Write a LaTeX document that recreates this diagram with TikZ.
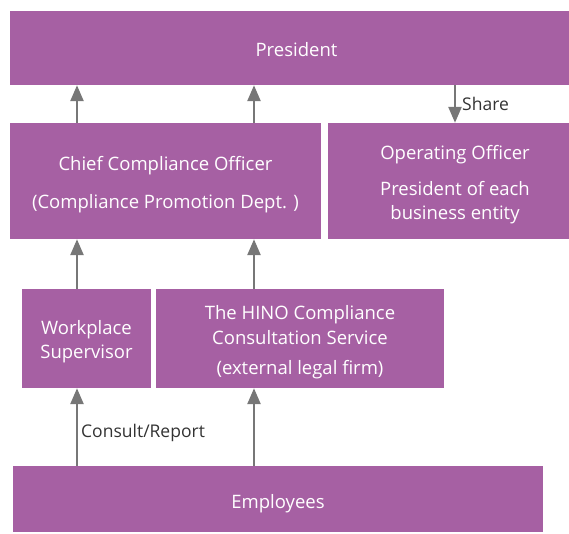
\documentclass[tikz,border=0pt]{standalone}
\usepackage{fontspec}
\setmainfont{Open Sans}
\usetikzlibrary{arrows.meta}
\definecolor{boxpurple}{HTML}{A660A3}
\definecolor{arrgray}{HTML}{777777}
\definecolor{labtext}{HTML}{333333}
\tikzset{
  orgbox/.style={fill=boxpurple, draw=none, inner sep=0pt},
  boxtext/.style={inner sep=0pt, text=white, align=center, font=\fontsize{18.5}{22}\selectfont},
  arr/.style={draw=arrgray, line width=2.5pt, -{Triangle[length=16pt,width=13pt]}},
  lab/.style={text=labtext, font=\fontsize{17.5}{21}\selectfont, inner sep=0pt, anchor=west}
}
\begin{document}
\begin{tikzpicture}[x=1pt,y=-1pt]
\useasboundingbox (0,0) rectangle (569,533);
\node[orgbox, minimum width=559pt, minimum height=74pt] (pres) at (289.5,48) {};
\node[orgbox, minimum width=311pt, minimum height=116pt] (cco) at (165.5,181) {};
\node[orgbox, minimum width=241pt, minimum height=116pt] (oo) at (448.5,181) {};
\node[orgbox, minimum width=129pt, minimum height=99pt] (ws) at (86.5,338.5) {};
\node[orgbox, minimum width=288pt, minimum height=99pt] (hino) at (300,338.5) {};
\node[orgbox, minimum width=530pt, minimum height=66pt] (emp) at (278,499) {};
\node[boxtext] (presT) at ([xshift=7pt,yshift=-1.5pt]pres.center) {President};
\node[boxtext] (ccoT) at ([yshift=-3.5pt]cco.center) {Chief Compliance Officer\\[16pt](Compliance Promotion Dept. )};
\node[boxtext] (ooT) at ([xshift=6.5pt,yshift=-3.5pt]oo.center) {Operating Officer\\[14pt]President of each\\[2pt]business entity};
\node[boxtext] (wsT) at ([yshift=-3.5pt]ws.center) {Workplace\\[2pt]Supervisor};
\node[boxtext] (hinoT) at ([yshift=-3.5pt]hino.center) {The HINO Compliance\\[3pt]Consultation Service\\[8pt](external legal firm)};
\node[boxtext] (empT) at ([yshift=-5pt]emp.center) {Employees};
\coordinate (xa) at (77,0);
\coordinate (xb) at (254,0);
\coordinate (xc) at (455,0);
\draw[arr] (cco.north -| xa) -- (pres.south -| xa);
\draw[arr] (cco.north -| xb) -- (pres.south -| xb);
\draw[arr] (pres.south -| xc) -- (oo.north -| xc);
\draw[arr] (ws.north -| xa) -- (cco.south -| xa);
\draw[arr] (hino.north -| xb) -- (cco.south -| xb);
\draw[arr] (emp.north -| xa) -- (ws.south -| xa);
\draw[arr] (emp.north -| xb) -- (hino.south -| xb);
\node[lab] (share) at (462,104) {Share};
\node[lab] (consult) at (81,433) {Consult/Report};
\end{tikzpicture}
\end{document}
